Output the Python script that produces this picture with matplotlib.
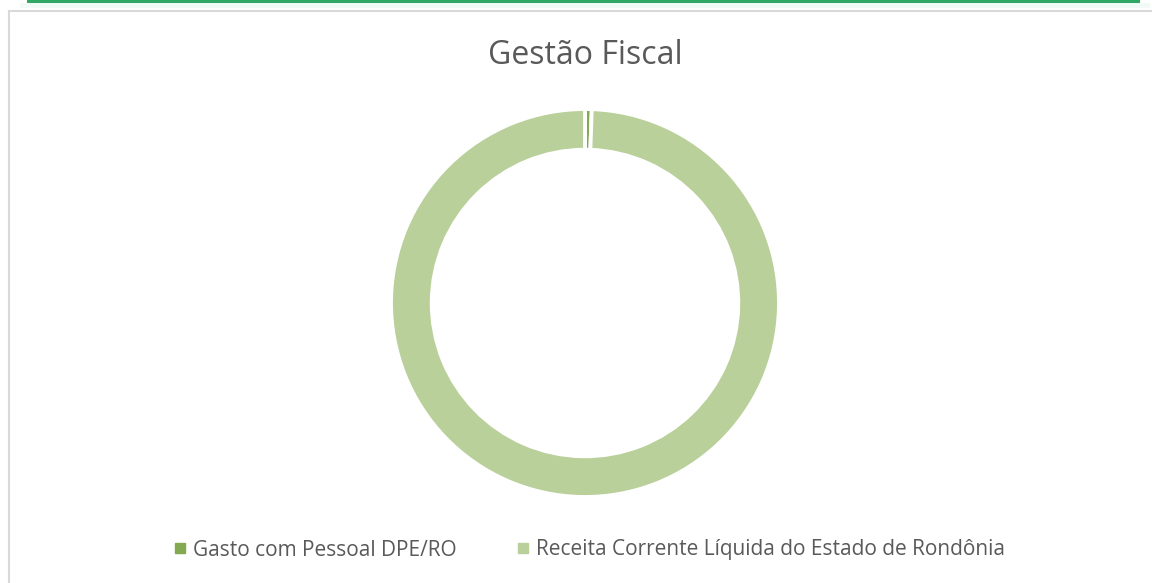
import matplotlib.pyplot as plt
from matplotlib.patches import Rectangle
from matplotlib.lines import Line2D

# Gasto com pessoal da DPE/RO frente à RCL do estado (R$ milhões)
categorias = ["Gasto com Pessoal DPE/RO", "Receita Corrente Líquida do Estado de Rondônia"]
valores = [52.0, 9300.0]
cores = ["#84A951", "#B9D09A"]

W, H = 1152, 583
fig = plt.figure(figsize=(W / 100, H / 100), dpi=100)
fig.patch.set_facecolor("white")

# faixa verde no topo e moldura do gráfico
fig.add_artist(Rectangle((27 / W, 1 - 3 / H), 1113 / W, 3 / H, transform=fig.transFigure,
                         facecolor="#2FA866", edgecolor="none"))
fig.add_artist(Rectangle((20 / W, 1 - 8 / H), 1130 / W, 5 / H, transform=fig.transFigure,
                         facecolor="#F2FAF7", edgecolor="none"))
fig.add_artist(Rectangle((8.5 / W, -0.1), 1.2, 1 - 10.5 / H + 0.1, transform=fig.transFigure,
                         facecolor="none", edgecolor="#D9D9D9", linewidth=1.5))

# rosca
cx, cy, r = 585, 303, 194
ax = fig.add_axes([(cx - r) / W, (H - cy - r) / H, 2 * r / W, 2 * r / H])
ax.pie(valores, colors=cores, startangle=90, counterclock=False, radius=1,
       wedgeprops=dict(width=0.21, edgecolor="white", linewidth=2.8))
ax.set_xlim(-1, 1)
ax.set_ylim(-1, 1)
ax.set_aspect("equal")
ax.axis("off")

fig.text(cx / W, 1 - 55 / H, "Gestão Fiscal", ha="center", va="center",
         fontsize=23, color="#595959", family="Open Sans")

handles = [Line2D([], [], marker="s", linestyle="none", markersize=7,
                  markerfacecolor=c, markeredgecolor=c) for c in cores]
fig.legend(handles, categorias, loc="center", bbox_to_anchor=(590 / W, 1 - 550 / H),
           ncol=2, frameon=False, handlelength=0.5, handletextpad=0.4,
           columnspacing=2.9, prop={"family": "Open Sans", "size": 15},
           labelcolor="#595959")

fig.savefig("out.png", dpi=100)
